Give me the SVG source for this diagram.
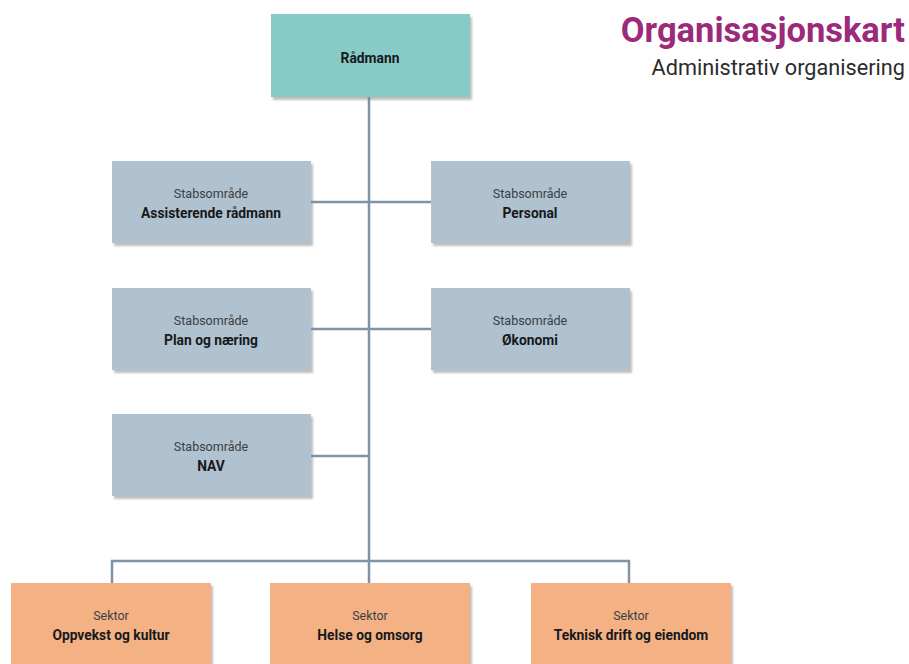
<svg xmlns="http://www.w3.org/2000/svg" width="909" height="664" viewBox="0 0 909 664">
<style>
.box{stroke:none}
.teal{fill:#86cbc6}
.stab{fill:#b0c1cf}
.sek{fill:#f4b183}
.sh{fill:#8a8a8a;opacity:0.55}
.lbl{font-family:Roboto,"Liberation Sans",sans-serif;font-size:12.5px;fill:#3a3f45;text-anchor:middle}
.bld{font-family:Roboto,"Liberation Sans",sans-serif;font-size:13.8px;font-weight:bold;fill:#16191c;text-anchor:middle}
.con{stroke:#7d93a8;stroke-width:2.5;fill:none}
</style>
<defs>
<filter id="blur" x="-10%" y="-10%" width="120%" height="130%"><feGaussianBlur stdDeviation="1.2"/></filter>
</defs>
<rect width="909" height="664" fill="#ffffff"/>
<g id="connectors">
<path class="con" d="M369 97 V583"/>
<path class="con" d="M311 202 H431"/>
<path class="con" d="M311 329 H431"/>
<path class="con" d="M311 456 H369"/>
<path class="con" d="M112 583 V561 H629 V583"/>
</g>
<g id="title">
<text x="905" y="42" font-family="Roboto,'Liberation Sans',sans-serif" font-size="34.5" font-weight="bold" fill="#9b2a7b" text-anchor="end">Organisasjonskart</text>
<text x="905" y="75" font-family="Roboto,'Liberation Sans',sans-serif" font-size="21.7" fill="#2b2b2b" text-anchor="end">Administrativ organisering</text>
</g>
<g id="radmann">
<rect class="sh" x="273" y="17" width="199" height="83" filter="url(#blur)"/>
<rect class="box teal" x="271" y="14" width="199" height="83"/>
<text class="bld" x="370" y="63">Rådmann</text>
</g>
<g id="assisterende">
<rect class="sh" x="114" y="164" width="199" height="82" filter="url(#blur)"/>
<rect class="box stab" x="112" y="161" width="199" height="82"/>
<text class="lbl" x="211" y="198">Stabsområde</text>
<text class="bld" x="211" y="218">Assisterende rådmann</text>
</g>
<g id="personal">
<rect class="sh" x="433" y="164" width="199" height="82" filter="url(#blur)"/>
<rect class="box stab" x="431" y="161" width="199" height="82"/>
<text class="lbl" x="530" y="198">Stabsområde</text>
<text class="bld" x="530" y="218">Personal</text>
</g>
<g id="plan">
<rect class="sh" x="114" y="291" width="199" height="82" filter="url(#blur)"/>
<rect class="box stab" x="112" y="288" width="199" height="82"/>
<text class="lbl" x="211" y="325">Stabsområde</text>
<text class="bld" x="211" y="345">Plan og næring</text>
</g>
<g id="okonomi">
<rect class="sh" x="433" y="291" width="199" height="82" filter="url(#blur)"/>
<rect class="box stab" x="431" y="288" width="199" height="82"/>
<text class="lbl" x="530" y="325">Stabsområde</text>
<text class="bld" x="530" y="345">Økonomi</text>
</g>
<g id="nav">
<rect class="sh" x="114" y="417" width="199" height="82" filter="url(#blur)"/>
<rect class="box stab" x="112" y="414" width="199" height="82"/>
<text class="lbl" x="211" y="451">Stabsområde</text>
<text class="bld" x="211" y="471">NAV</text>
</g>
<g id="oppvekst">
<rect class="sh" x="13" y="586" width="200" height="90" filter="url(#blur)"/>
<rect class="box sek" x="11" y="583" width="200" height="90"/>
<text class="lbl" x="111" y="620">Sektor</text>
<text class="bld" x="111" y="640">Oppvekst og kultur</text>
</g>
<g id="helse">
<rect class="sh" x="272" y="586" width="200" height="90" filter="url(#blur)"/>
<rect class="box sek" x="270" y="583" width="200" height="90"/>
<text class="lbl" x="370" y="620">Sektor</text>
<text class="bld" x="370" y="640">Helse og omsorg</text>
</g>
<g id="teknisk">
<rect class="sh" x="533" y="586" width="200" height="90" filter="url(#blur)"/>
<rect class="box sek" x="531" y="583" width="200" height="90"/>
<text class="lbl" x="631" y="620">Sektor</text>
<text class="bld" x="631" y="640">Teknisk drift og eiendom</text>
</g>
</svg>
